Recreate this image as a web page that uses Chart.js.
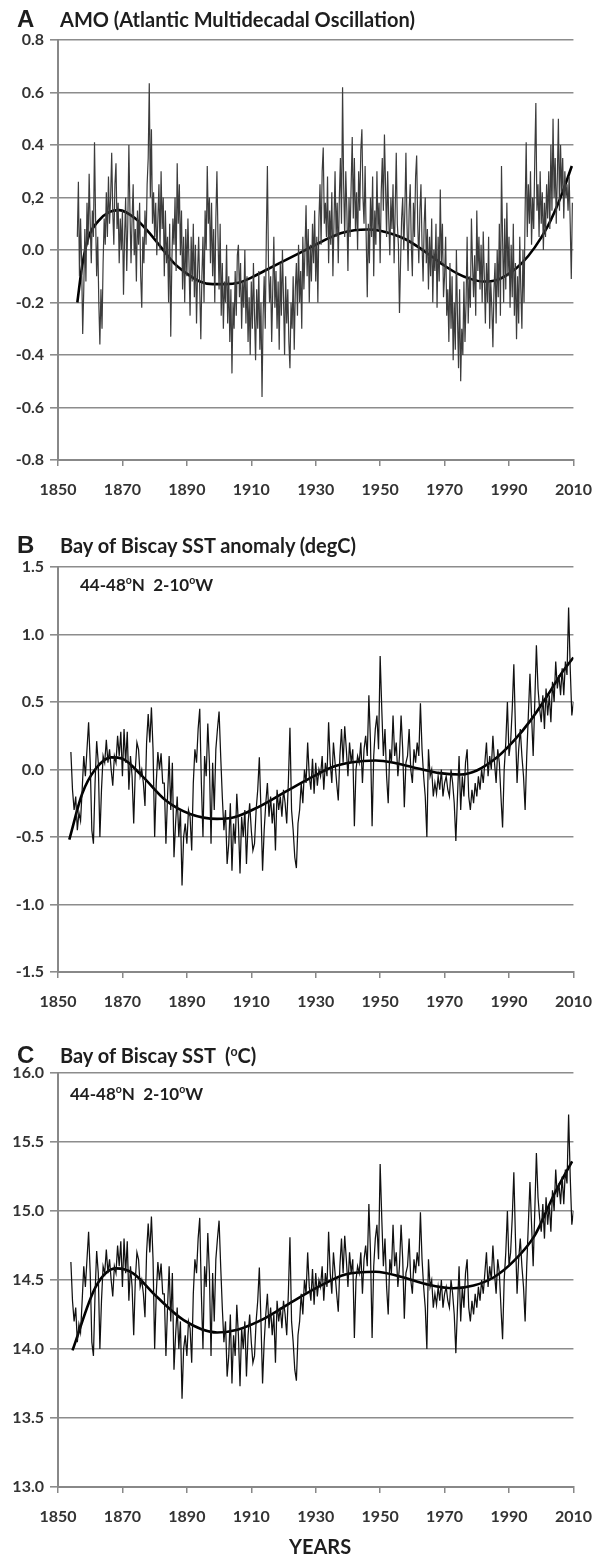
<!DOCTYPE html>
<html>
<head>
<meta charset="utf-8">
<script src="https://cdn.jsdelivr.net/npm/chart.js@4/dist/chart.umd.min.js"></script>
<style>
  body { margin: 0; background: #fff; }
  #page { position: relative; width: 606px; height: 1557px; overflow: hidden; }
  canvas { position: absolute; left: 0; }
  .txt { position: absolute; transform: translateY(-50%); white-space: nowrap; color: #1e1e1e; }
  .letter { font: bold 24px "Liberation Sans", Arial, sans-serif; left: 17px; }
  .title { font: bold 20px Lato, sans-serif; left: 60px; }
  .note { font: bold 17px Lato, sans-serif; }
  .note sup, .title sup { font-size: 0.62em; vertical-align: 0.6em; line-height: 0; }
</style>
</head>
<body>
<div id="page">
  <canvas id="chartA" width="606" height="490" style="top:20px"></canvas>
  <canvas id="chartB" width="606" height="475" style="top:547px"></canvas>
  <canvas id="chartC" width="606" height="484" style="top:1053px"></canvas>

  <div class="txt letter" style="top:19px">A</div>
  <div class="txt title" style="top:19px">AMO (Atlantic Multidecadal Oscillation)</div>
  <div class="txt letter" style="top:545px">B</div>
  <div class="txt title" style="top:545px">Bay of Biscay SST anomaly (degC)</div>
  <div class="txt note" style="top:584px;left:80px">44-48<sup>o</sup>N&nbsp; 2-10<sup>o</sup>W</div>
  <div class="txt letter" style="top:1055px">C</div>
  <div class="txt title" style="top:1055px">Bay of Biscay SST&nbsp; (<sup>o</sup>C)</div>
  <div class="txt note" style="top:1093px;left:70px">44-48<sup>o</sup>N&nbsp; 2-10<sup>o</sup>W</div>
  <div class="txt title" style="top:1546px;left:289px">YEARS</div>
</div>

<script>
// x axis, shared by all three panels
const yearTicks = [1850, 1870, 1890, 1910, 1930, 1950, 1970, 1990, 2010];

// --- A: AMO index, three values per year from 1856.0 ---
const amoStart = 1856;
const amoStep = 1 / 3;
const amoValues = [
  0.05, 0.26, -0.10,  0.12, -0.05, -0.32,  -0.15, 0.08, -0.12,  0.18, 0.02, 0.29,   // 1856-59
  0.10, -0.05, 0.15,  0.05, 0.41, 0.12,  -0.10, 0.05, -0.20,  -0.36, -0.15, -0.30,  // 1860-63
  -0.05, 0.12, 0.02,  0.22, 0.05, 0.28,  0.10, 0.20, 0.37,  0.15, 0.02, 0.25,      // 1864-67
  0.33, 0.08, 0.18,  -0.05, 0.12, 0.00,                                          // 1868-69
  0.15, -0.17, 0.05,  0.20, -0.08, 0.10,  0.40, 0.15, -0.05,  0.12, 0.25, -0.02,   // 1870-73
  0.08, -0.12, 0.15,  0.02, 0.18, -0.10,  -0.22, 0.05, -0.05,  0.15, 0.02, 0.25,   // 1874-77
  0.35, 0.635, 0.20,  0.46, 0.10, 0.22,                                          // 1878-79
  0.05, 0.18, -0.02,  0.12, 0.25, 0.00,  0.30, 0.08, 0.20,  -0.10, 0.15, -0.05,    // 1880-83
  0.05, -0.20, 0.10,  -0.33, -0.05, 0.12,  0.02, 0.20, -0.08,  0.33, 0.10, 0.25,   // 1884-87
  -0.02, 0.15, -0.15,  0.05, -0.20, 0.08,                                        // 1888-89
  -0.10, 0.12, -0.05,  -0.25, 0.05, -0.12,  0.10, -0.18, 0.02,  -0.28, -0.08, 0.05, // 1890-93
  -0.15, -0.34, -0.10,  0.05, -0.20, 0.15,  0.00, 0.32, 0.10,  0.20, -0.05, 0.18,  // 1894-97
  -0.10, 0.08, -0.20,  0.12, 0.30, 0.05,                                         // 1898-99
  -0.15, 0.10, -0.25,  -0.05, -0.30, -0.12,  -0.20, 0.02, -0.28,  -0.10, -0.35, -0.15, // 1900-03
  -0.47, -0.20, -0.30,  -0.08, -0.25, -0.02,  0.02, -0.18, -0.05,  -0.30, -0.12, -0.22, // 1904-07
  0.00, -0.28, -0.10,  -0.35, -0.18, -0.40,                                      // 1908-09
  -0.12, -0.30, -0.05,  -0.25, -0.42, -0.15,  -0.30, -0.08, -0.38,  -0.20, -0.56, -0.25, // 1910-13
  -0.10, -0.30, 0.05,  0.32, -0.05, -0.20,  -0.10, -0.35, -0.15,  0.05, -0.22, -0.08, // 1914-17
  -0.30, -0.12, -0.38,  -0.05, -0.25, 0.00,                                      // 1918-19
  -0.18, -0.40, -0.10,  -0.28, -0.15, -0.35,  -0.45, -0.20, -0.30,  -0.10, -0.38, -0.15, // 1920-23
  -0.05, -0.25, 0.02,  -0.20, -0.08, -0.30,  0.05, -0.15, 0.00,  0.17, -0.10, 0.08, // 1924-27
  -0.20, 0.02, -0.12,  0.10, -0.05, 0.15,                                        // 1928-29
  -0.12, 0.05, -0.20,  0.12, 0.25, 0.02,  0.30, 0.39, 0.10,  0.18, 0.05, 0.28,     // 1930-33
  -0.05, 0.15, 0.02,  0.22, -0.10, 0.10,  0.30, 0.05, 0.18,  -0.05, 0.20, 0.35,    // 1934-37
  0.10, 0.62, 0.25,  0.05, 0.30, 0.15,                                           // 1938-39
  -0.08, 0.20, 0.05,  0.25, 0.43, 0.12,  0.35, 0.08, 0.22,  0.00, 0.30, 0.15,      // 1940-43
  0.38, 0.46, 0.20,  0.10, 0.32, 0.05,  -0.18, 0.10, -0.05,  0.20, 0.05, 0.28,     // 1944-47
  -0.10, 0.15, 0.02,  0.30, 0.08, 0.18,                                          // 1948-49
  -0.05, 0.22, 0.35,  0.15, 0.44, 0.25,  0.05, 0.30, 0.12,  -0.02, 0.20, 0.08,     // 1950-53
  0.25, -0.05, 0.15,  0.37, 0.10, 0.02,  -0.24, -0.05, 0.12,  0.20, 0.00, 0.15,    // 1954-57
  0.37, 0.10, -0.08,  0.15, 0.25, 0.02,                                          // 1958-59
  -0.10, 0.18, 0.05,  0.28, 0.36, 0.10,  -0.05, 0.15, 0.25,  0.02, -0.12, 0.10,    // 1960-63
  0.20, -0.05, 0.08,  -0.15, 0.05, -0.10,  0.12, -0.20, 0.00,  -0.08, 0.10, -0.22, // 1964-67
  0.05, -0.12, 0.23,  -0.05, 0.10, -0.18,                                        // 1968-69
  -0.10, 0.05, -0.25,  -0.15, -0.35, -0.05,  -0.30, -0.10, -0.42,  -0.20, -0.38, 0.00, // 1970-73
  -0.25, -0.45, -0.15,  -0.50, -0.30, -0.40,  -0.12, -0.35, -0.20,  0.05, -0.28, -0.10, // 1974-77
  -0.22, 0.12, -0.05,  -0.18, -0.02, -0.25,                                      // 1978-79
  0.15, -0.08, 0.05,  -0.15, 0.02, -0.20,  0.07, -0.10, -0.28,  -0.05, -0.20, 0.05, // 1980-83
  -0.30, -0.12, -0.22,  -0.37, -0.15, -0.05,  -0.28, 0.00, -0.18,  0.10, -0.25, 0.32, // 1984-87
  0.05, -0.20, 0.12,  -0.15, 0.18, -0.10,                                        // 1988-89
  0.05, -0.22, 0.02,  -0.18, 0.10, -0.25,  -0.05, -0.34, -0.10,  -0.28, 0.05, -0.15, // 1990-93
  -0.30, 0.00, -0.20,  0.15, 0.41, 0.05,  0.25, 0.10, 0.30,  0.02, 0.20, 0.08,     // 1994-97
  0.35, 0.56, 0.15,  0.25, 0.05, 0.30,                                           // 1998-99
  0.10, 0.22, 0.00,  0.18, 0.05, 0.25,  0.12, 0.30, 0.08,  0.40, 0.15, 0.50,       // 2000-03
  0.20, 0.35, 0.10,  0.28, 0.50, 0.15,  0.40, 0.22, 0.35,  0.12, 0.30, 0.20,       // 2004-07
  0.25, 0.15, 0.28,  0.10, -0.11, 0.18                                           // 2008-09
];
// polynomial trend drawn over the AMO index
const amoFitYears  = [1856, 1857.5, 1859.5, 1862.5, 1866, 1869, 1874, 1878, 1882, 1886, 1890, 1894, 1898, 1902,
  1906, 1910, 1914, 1918, 1922, 1926, 1930, 1934, 1938, 1942, 1946, 1950, 1954, 1958, 1962, 1966, 1970,
  1974, 1978, 1982, 1986, 1990, 1994, 1998, 2002, 2006, 2009.5];
const amoFitValues = [-0.20, -0.06, 0.05, 0.11, 0.145, 0.152, 0.12, 0.07, 0.01, -0.05, -0.09, -0.12, -0.13, -0.13,
  -0.125, -0.105, -0.08, -0.055, -0.03, -0.005, 0.02, 0.045, 0.065, 0.075, 0.078, 0.073, 0.06, 0.04, 0.01, -0.025, -0.06,
  -0.09, -0.11, -0.12, -0.115, -0.09, -0.05, 0.01, 0.09, 0.20, 0.32];
const amoTicks = [-0.8, -0.6, -0.4, -0.2, 0, 0.2, 0.4, 0.6, 0.8];
const amoTickLabels = ['-0.8', '-0.6', '-0.4', '-0.2', '0.0', '0,2', '0.4', '0.6', '0.8'];

// --- B: Bay of Biscay SST anomaly (degC), two values per year from 1854.0 ---
const anomStart = 1854;
const anomStep = 0.5;
const anomValues = [
  0.13, -0.15,  -0.30, -0.20,  -0.45, -0.32,  -0.38, -0.15,  0.10, -0.05,  0.15, 0.35,   // 1854-59
  0.05, -0.45,  -0.55, -0.10,  0.21, 0.05,  -0.50, -0.15,  0.10, 0.05,  0.22, 0.05,      // 1860-65
  0.15, 0.00,  -0.12, 0.10,  0.05, 0.25,  0.10, 0.28,                                    // 1866-69
  -0.05, 0.30,  0.05, 0.28,  -0.15, 0.10,  -0.05, -0.40,  0.00, 0.20,  0.15, -0.05,      // 1870-75
  0.00, -0.10,  -0.27, 0.20,  0.41, 0.20,  0.46, 0.15,                                   // 1876-79
  -0.50, -0.10,  0.13, 0.00,  0.12, -0.10,  -0.10, -0.55,  -0.20, 0.10,  -0.30, 0.05,    // 1880-85
  -0.65, -0.40,  -0.20, -0.50,  -0.30, -0.86,  -0.50, -0.40,                             // 1886-89
  -0.55, -0.30,  -0.35, -0.60,  -0.10, 0.15,  0.05, 0.30,  0.45, -0.10,  -0.50, 0.10,    // 1890-95
  -0.05, 0.34,  0.05, -0.55,  0.05, -0.30,  0.15, 0.30,                                  // 1896-99
  0.43, 0.10,  -0.20, -0.45,  -0.30, -0.70,  -0.55, -0.25,  -0.75, -0.40,  -0.55, -0.18, // 1900-05
  -0.40, -0.77,  -0.35, -0.50,  -0.30, -0.70,  -0.40, -0.25,                             // 1906-09
  -0.45, -0.60,  -0.55, -0.30,  -0.15, 0.09,  -0.30, -0.75,  -0.45, -0.25,  -0.10, -0.35, // 1910-15
  -0.20, -0.40,  -0.25, -0.60,  -0.15, -0.30,  -0.20, -0.35,                             // 1916-19
  -0.15, -0.25,  -0.40, -0.10,  0.31, -0.30,  -0.45, -0.65,  -0.73, -0.40,  -0.30, -0.10, // 1920-25
  -0.25, 0.00,  -0.10, 0.20,  -0.05, -0.15,  0.08, -0.18,                                // 1926-29
  0.05, -0.12,  0.00, -0.05,  0.10, -0.15,  0.05, -0.05,  0.35, 0.05,  -0.10, 0.20,      // 1930-35
  0.05, -0.10,  -0.23, 0.10,  0.30, 0.05,  0.32, 0.15,                                   // 1936-39
  -0.05, 0.20,  0.05, 0.15,  -0.42, 0.00,  0.10, 0.05,  0.20, -0.10,  0.15, 0.25,        // 1940-45
  0.10, 0.55,  0.20, -0.42,  0.10, 0.30,  0.40, 0.15,                                    // 1946-49
  0.84, 0.45,  0.10, 0.30,  -0.05, -0.25,  0.15, 0.05,  0.40, 0.10,  0.20, -0.05,        // 1950-55
  0.10, 0.40,  0.15, -0.28,  0.05, 0.10,  0.30, 0.00,                                    // 1956-59
  -0.10, 0.15,  0.05, 0.20,  0.10, 0.49,  0.15, -0.05,  -0.20, -0.50,  0.15, -0.05,      // 1960-65
  0.00, -0.20,  -0.10, -0.18,  -0.05, -0.15,  0.00, -0.20,                               // 1966-69
  -0.10, -0.05,  -0.15, -0.20,  0.00, -0.10,  -0.25, -0.53,  -0.20, 0.10,  -0.30, -0.05, // 1970-75
  -0.20, 0.05,  0.15, -0.20,  -0.30, -0.15,  -0.25, -0.10,                               // 1976-79
  -0.20, -0.05,  -0.15, 0.00,  -0.10, 0.05,  0.20, -0.05,  0.10, 0.00,  0.25, 0.05,      // 1980-85
  -0.10, 0.15,  0.05, -0.20,  -0.43, 0.00,  0.20, 0.50,                                  // 1986-89
  0.10, 0.20,  0.45, 0.78,  0.30, -0.10,  0.15, 0.30,  0.10, -0.05,  -0.30, 0.10,        // 1990-95
  0.40, 0.71,  0.40, 0.10,  0.50, 0.92,  0.60, 0.45,                                     // 1996-99
  0.35, 0.55,  0.30, 0.60,  0.40, 0.55,  0.35, 0.65,  0.50, 0.80,  0.60, 0.70,           // 2000-05
  0.55, 0.75,  0.55, 0.80,  0.70, 1.20,  0.75, 0.40,  0.50                               // 2006-10
];
const anomFitYears  = [1853.5, 1857.5, 1861.7, 1866.5, 1870, 1876, 1883.5, 1891, 1899.4, 1904.7, 1912, 1920.4,
  1928.8, 1935, 1941.3, 1948.6, 1954.9, 1962.2, 1968.5, 1974.8, 1980, 1986.3, 1991.6, 1996.7, 2002, 2006.2, 2010];
const anomFitValues = [-0.52, -0.18, 0.005, 0.09, 0.08, -0.045, -0.23, -0.33, -0.366, -0.354, -0.28, -0.168,
  -0.057, 0.017, 0.054, 0.067, 0.047, 0.005, -0.027, -0.037, -0.007, 0.09, 0.215, 0.364, 0.55, 0.71, 0.83];
const anomTicks = [-1.5, -1.0, -0.5, 0, 0.5, 1.0, 1.5];
const anomTickLabels = ['-1.5', '-1.0', '-0.5', '0.0', '0.5', '1.0', '1.5'];

// --- C: Bay of Biscay SST (degC), two values per year from 1854.0 ---
const sstStart = 1854;
const sstStep = 0.5;
const sstValues = [
  14.63, 14.35,  14.20, 14.30,  14.05, 14.18,  14.12, 14.35,  14.60, 14.45,  14.65, 14.85, // 1854-59
  14.55, 14.05,  13.95, 14.40,  14.71, 14.55,  14.00, 14.35,  14.60, 14.55,  14.72, 14.55, // 1860-65
  14.65, 14.50,  14.38, 14.60,  14.55, 14.75,  14.60, 14.78,                               // 1866-69
  14.45, 14.80,  14.55, 14.78,  14.35, 14.60,  14.45, 14.10,  14.50, 14.70,  14.65, 14.45, // 1870-75
  14.50, 14.40,  14.23, 14.70,  14.91, 14.70,  14.96, 14.65,                               // 1876-79
  14.00, 14.40,  14.63, 14.50,  14.62, 14.40,  14.40, 13.95,  14.30, 14.60,  14.20, 14.55, // 1880-85
  13.85, 14.10,  14.30, 14.00,  14.20, 13.64,  14.00, 14.10,                               // 1886-89
  13.95, 14.20,  14.15, 13.90,  14.40, 14.65,  14.55, 14.80,  14.95, 14.40,  14.00, 14.60, // 1890-95
  14.45, 14.84,  14.55, 13.95,  14.55, 14.20,  14.65, 14.80,                               // 1896-99
  14.93, 14.60,  14.30, 14.05,  14.20, 13.80,  13.95, 14.25,  13.75, 14.10,  13.95, 14.32, // 1900-05
  14.10, 13.73,  14.15, 14.00,  14.20, 13.80,  14.10, 14.25,                               // 1906-09
  14.05, 13.90,  13.95, 14.20,  14.35, 14.59,  14.20, 13.75,  14.05, 14.25,  14.40, 14.15, // 1910-15
  14.30, 14.10,  14.25, 13.90,  14.35, 14.20,  14.30, 14.15,                               // 1916-19
  14.35, 14.25,  14.10, 14.40,  14.81, 14.20,  14.05, 13.85,  13.77, 14.10,  14.20, 14.40, // 1920-25
  14.25, 14.50,  14.40, 14.70,  14.45, 14.35,  14.58, 14.32,                               // 1926-29
  14.55, 14.38,  14.50, 14.45,  14.60, 14.35,  14.55, 14.45,  14.85, 14.55,  14.40, 14.70, // 1930-35
  14.55, 14.40,  14.27, 14.60,  14.80, 14.55,  14.82, 14.65,                               // 1936-39
  14.45, 14.70,  14.55, 14.65,  14.08, 14.50,  14.60, 14.55,  14.70, 14.40,  14.65, 14.75, // 1940-45
  14.60, 15.05,  14.70, 14.08,  14.60, 14.80,  14.90, 14.65,                               // 1946-49
  15.34, 14.95,  14.60, 14.80,  14.45, 14.25,  14.65, 14.55,  14.90, 14.60,  14.70, 14.45, // 1950-55
  14.60, 14.90,  14.65, 14.22,  14.55, 14.60,  14.80, 14.50,                               // 1956-59
  14.40, 14.65,  14.55, 14.70,  14.60, 14.99,  14.65, 14.45,  14.30, 14.00,  14.65, 14.45, // 1960-65
  14.50, 14.30,  14.40, 14.32,  14.45, 14.35,  14.50, 14.30,                               // 1966-69
  14.40, 14.45,  14.35, 14.30,  14.50, 14.40,  14.25, 13.97,  14.30, 14.60,  14.20, 14.45, // 1970-75
  14.30, 14.55,  14.65, 14.30,  14.20, 14.35,  14.25, 14.40,                               // 1976-79
  14.30, 14.45,  14.35, 14.50,  14.40, 14.55,  14.70, 14.45,  14.60, 14.50,  14.75, 14.55, // 1980-85
  14.40, 14.65,  14.55, 14.30,  14.07, 14.50,  14.70, 15.00,                               // 1986-89
  14.60, 14.70,  14.95, 15.28,  14.80, 14.40,  14.65, 14.80,  14.60, 14.45,  14.20, 14.60, // 1990-95
  14.90, 15.21,  14.90, 14.60,  15.00, 15.42,  15.10, 14.95,                               // 1996-99
  14.85, 15.05,  14.80, 15.10,  14.90, 15.05,  14.85, 15.15,  15.00, 15.30,  15.10, 15.20, // 2000-05
  15.05, 15.25,  15.05, 15.30,  15.20, 15.70,  15.25, 14.90,  15.00                        // 2006-10
];
const sstFitYears  = [1854.5, 1861.7, 1868, 1873.2, 1880.6, 1889, 1899.4, 1905.7, 1914, 1922.5, 1930.8,
  1939.2, 1948.6, 1957, 1964.3, 1972.7, 1979, 1985.3, 1991.6, 1997.9, 2004.1, 2009.6];
const sstFitValues = [13.99, 14.45, 14.584, 14.55, 14.38, 14.21, 14.12, 14.14, 14.22, 14.34, 14.45,
  14.54, 14.56, 14.52, 14.47, 14.44, 14.46, 14.52, 14.64, 14.82, 15.125, 15.36];
const sstTicks = [13.0, 13.5, 14.0, 14.5, 15.0, 15.5, 16.0];
const sstTickLabels = ['13.0', '13.5', '14.0', '14.5', '15.0', '15.5', '16.0'];

const tickFont = { family: 'Lato', weight: 'bold', size: 16 };
const tickColor = '#333';
const axisGrey = '#888';

function seriesPoints(start, step, values) {
  return values.map((v, i) => ({ x: start + i * step, y: v }));
}

function fitPoints(years, values) {
  return years.map((yr, i) => ({ x: yr, y: values[i] }));
}

function drawPanel(canvasId, p) {
  return new Chart(document.getElementById(canvasId), {
    type: 'line',
    data: {
      datasets: [
        {
          data: seriesPoints(p.start, p.step, p.values),
          borderColor: p.lineColor,
          borderWidth: p.lineWidth,
          tension: 0,
          pointRadius: 0
        },
        {
          data: fitPoints(p.fitYears, p.fitValues),
          borderColor: '#000',
          borderWidth: 2.6,
          cubicInterpolationMode: 'monotone',
          pointRadius: 0
        }
      ]
    },
    options: {
      responsive: false,
      animation: false,
      devicePixelRatio: 1,
      layout: { padding: { top: 20, right: 23, left: 0, bottom: 0 } },
      plugins: { legend: { display: false }, tooltip: { enabled: false } },
      scales: {
        x: {
          type: 'linear',
          min: 1850,
          max: 2010,
          afterBuildTicks: s => { s.ticks = yearTicks.map(v => ({ value: v })); },
          afterFit: s => { s.height = 50; },
          grid: { drawOnChartArea: false, drawTicks: true, tickLength: 6, color: axisGrey, lineWidth: 1.5 },
          border: { color: axisGrey, width: 2 },
          ticks: {
            color: tickColor, font: tickFont, padding: 14, maxRotation: 0, autoSkip: false,
            callback: v => String(v)
          }
        },
        y: {
          min: p.ticks[0],
          max: p.ticks[p.ticks.length - 1],
          afterBuildTicks: s => { s.ticks = p.ticks.map(v => ({ value: v })); },
          afterFit: s => { s.width = 58; },
          grid: { color: '#8c8c8c', lineWidth: 1.6, tickLength: 8 },
          border: { color: axisGrey, width: 2 },
          ticks: {
            color: tickColor, font: tickFont, padding: 6, autoSkip: false,
            callback: (v, i) => p.tickLabels[i]
          }
        }
      }
    }
  });
}

drawPanel('chartA', {
  start: amoStart, step: amoStep, values: amoValues,
  fitYears: amoFitYears, fitValues: amoFitValues,
  ticks: amoTicks, tickLabels: amoTickLabels,
  lineColor: '#3c3c3c', lineWidth: 1.2
});
drawPanel('chartB', {
  start: anomStart, step: anomStep, values: anomValues,
  fitYears: anomFitYears, fitValues: anomFitValues,
  ticks: anomTicks, tickLabels: anomTickLabels,
  lineColor: '#111', lineWidth: 1.25
});
drawPanel('chartC', {
  start: sstStart, step: sstStep, values: sstValues,
  fitYears: sstFitYears, fitValues: sstFitValues,
  ticks: sstTicks, tickLabels: sstTickLabels,
  lineColor: '#111', lineWidth: 1.25
});
</script>
</body>
</html>
